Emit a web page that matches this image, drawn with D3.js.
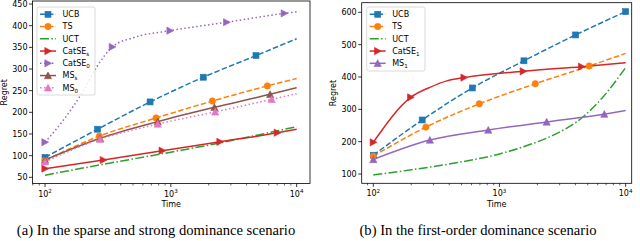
<!DOCTYPE html>
<html><head><meta charset="utf-8">
<script src="https://cdn.jsdelivr.net/npm/d3@7/dist/d3.min.js"></script>
<style>body{margin:0;background:#fff}svg{display:block}</style>
</head><body>
<svg id="c" width="640" height="241"></svg>
<script>
// ---------- data: panel (a) ----------
const ucbA_t = [100, 262, 684, 1811, 4750, 10000];
const ucbA_v = [96, 161, 224, 281, 331, 370];
const tsA_t = [100, 270, 763, 2140, 5850, 10000];
const tsA_v = [89, 145, 187, 226, 261, 278];
const uctA_t = [100, 316, 1000, 2500, 3162, 10000];
const uctA_v = [55, 82, 108, 130, 136, 167];
const catsA_t = [100, 291, 855, 2460, 7030, 10000];
const catsA_v = [70, 90, 111.5, 132, 153, 161];
const cat0A_t = [100, 140, 200, 258, 343, 500, 986, 2780, 7980, 10000];
const cat0A_v = [131, 182, 248, 305, 351, 372, 388.5, 408, 428.5, 432];
const mssA_t = [100, 274, 787, 2220, 6150, 10000];
const mssA_v = [90, 140, 178.5, 211.5, 241.5, 257];
const ms0A_t = [100, 274, 787, 2250, 6330, 10000];
const ms0A_v = [86, 138, 173, 201, 230, 243];
// marker indices
const ucbA_m = [0,1,2,3,4], tsA_m = [0,1,2,3,4], uctA_m = [], catsA_m = [0,1,2,3,4],
      cat0A_m = [0,4,6,7,8], mssA_m = [0,1,2,3,4], ms0A_m = [0,1,2,3,4];

// ---------- data: panel (b) ----------
const ucbB_t = [100, 244, 609, 1563, 4010, 10000];
const ucbB_v = [158, 267, 366, 450, 530, 602];
const tsB_t = [100, 261, 692, 1923, 5140, 10000];
const tsB_v = [155, 245, 317, 379, 434, 473];
const uctB_t = [100, 200, 430, 1000, 1855, 2670, 4610, 6640, 10000];
const uctB_v = [97, 113, 133, 162, 195, 220, 277, 339, 429];
const cat1B_t = [100, 198, 281, 382, 524, 1545, 4480, 10000];
const cat1B_v = [198, 337, 368, 388, 398, 417.5, 432, 444];
const ms1B_t = [100, 281, 815, 2365, 6770, 10000];
const ms1B_v = [145, 205, 236, 261, 285, 296];
const ucbB_m = [0,1,2,3,4,5], tsB_m = [0,1,2,3,4], uctB_m = [], cat1B_m = [0,1,4,5,6], ms1B_m = [0,1,2,3,4];

const yTicksA = [50,100,150,200,250,300,350,400,450];
const yTicksB = [100,200,300,400,500,600];
const xTicks = [100, 1000, 10000];
const captions = ["(a) In the sparse and strong dominance scenario", "(b) In the first-order dominance scenario"];

// ---------- styles ----------
const C = {blue:"#1f77b4", orange:"#ff7f0e", green:"#2ca02c", red:"#d62728", purple:"#9467bd", brown:"#8c564b", pink:"#e377c2"};
const DASH = {solid:null, dashed:"5.5,2.4", dashdot:"9,2.4,1.5,2.4", dotted:"1.5,2.5"};

const panelA = {
  x0: 32.5, x1: 310, y0: 1, y1: 183.5, xd: [Math.pow(10,1.9006), Math.pow(10,4.106)], yd: [35.7, 457], yt: yTicksA,
  legend: {x:37, y:7, w:58, h:88},
  series: [
    {lab:"UCB", sub:"", t:ucbA_t, v:ucbA_v, m:ucbA_m, c:C.blue, d:"dashed", s:"square"},
    {lab:"TS", sub:"", t:tsA_t, v:tsA_v, m:tsA_m, c:C.orange, d:"dashed", s:"circle"},
    {lab:"UCT", sub:"", t:uctA_t, v:uctA_v, m:uctA_m, c:C.green, d:"dashdot", s:"none"},
    {lab:"CatSE", sub:"s", t:catsA_t, v:catsA_v, m:catsA_m, c:C.red, d:"solid", s:"right"},
    {lab:"CatSE", sub:"0", t:cat0A_t, v:cat0A_v, m:cat0A_m, c:C.purple, d:"dotted", s:"right"},
    {lab:"MS", sub:"s", t:mssA_t, v:mssA_v, m:mssA_m, c:C.brown, d:"solid", s:"up"},
    {lab:"MS", sub:"0", t:ms0A_t, v:ms0A_v, m:ms0A_m, c:C.pink, d:"dotted", s:"up"}
  ]
};
const panelB = {
  x0: 361.7, x1: 631.7, y0: 2.7, y1: 183.3, xd: [Math.pow(10,1.908), Math.pow(10,4.048)], yd: [71.2, 629.7], yt: yTicksB,
  legend: {x:366.7, y:7, w:58.3, h:64},
  series: [
    {lab:"UCB", sub:"", t:ucbB_t, v:ucbB_v, m:ucbB_m, c:C.blue, d:"dashed", s:"square"},
    {lab:"TS", sub:"", t:tsB_t, v:tsB_v, m:tsB_m, c:C.orange, d:"dashed", s:"circle"},
    {lab:"UCT", sub:"", t:uctB_t, v:uctB_v, m:uctB_m, c:C.green, d:"dashdot", s:"none"},
    {lab:"CatSE", sub:"1", t:cat1B_t, v:cat1B_v, m:cat1B_m, c:C.red, d:"solid", s:"right"},
    {lab:"MS", sub:"1", t:ms1B_t, v:ms1B_v, m:ms1B_m, c:C.purple, d:"solid", s:"up"}
  ]
};

const svg = d3.select("#c");
const FONT = "DejaVu Sans, sans-serif";

function marker(g, shape, x, y, color) {
  if (shape === "none") return;
  let p;
  if (shape === "square") p = g.append("rect").attr("x", x-3).attr("y", y-3).attr("width", 6).attr("height", 6);
  else if (shape === "circle") p = g.append("circle").attr("cx", x).attr("cy", y).attr("r", 3.2);
  else if (shape === "right") p = g.append("path").attr("d", `M${x+3.6},${y}L${x-3.2},${y-3.6}L${x-3.2},${y+3.6}Z`);
  else if (shape === "up") p = g.append("path").attr("d", `M${x},${y-3.6}L${x+3.6},${y+3.2}L${x-3.6},${y+3.2}Z`);
  p.attr("fill", color).attr("stroke", color).attr("stroke-width", 0.6);
}

function drawPanel(P) {
  const x = d3.scaleLog().domain(P.xd).range([P.x0, P.x1]);
  const y = d3.scaleLinear().domain(P.yd).range([P.y1, P.y0]);
  const g = svg.append("g");

  // lines
  P.series.forEach(s => {
    const pts = s.t.map((t,i) => [x(t), y(s.v[i])]);
    g.append("path").attr("d", d3.line().curve(d3.curveMonotoneX)(pts))
      .attr("fill","none").attr("stroke", s.c).attr("stroke-width", 1.5)
      .attr("stroke-dasharray", DASH[s.d]);
  });
  P.series.forEach(s => {
    s.m.forEach(i => marker(g, s.s, x(s.t[i]), y(s.v[i]), s.c));
  });

  // frame
  g.append("rect").attr("x", P.x0).attr("y", P.y0).attr("width", P.x1-P.x0).attr("height", P.y1-P.y0)
    .attr("fill","none").attr("stroke","#000").attr("stroke-width",0.8);

  // x ticks major + minor
  const minors = [];
  for (let k = 1; k <= 4; k++) for (let m = 2; m <= 9; m++) {
    const v = m*Math.pow(10,k);
    if (v >= P.xd[0] && v <= P.xd[1]) minors.push(v);
  }
  minors.forEach(v => g.append("line").attr("x1", x(v)).attr("x2", x(v)).attr("y1", P.y1).attr("y2", P.y1+2)
    .attr("stroke","#000").attr("stroke-width",0.6));
  xTicks.forEach(v => {
    g.append("line").attr("x1", x(v)).attr("x2", x(v)).attr("y1", P.y1).attr("y2", P.y1+3.5)
      .attr("stroke","#000").attr("stroke-width",0.8);
    const tx = g.append("text").attr("x", x(v)).attr("y", P.y1+13).attr("text-anchor","middle")
      .attr("font-family",FONT).attr("font-size",8).attr("fill","#000");
    tx.append("tspan").text("10");
    tx.append("tspan").attr("font-size",5.6).attr("dy",-3.2).text(String(Math.round(Math.log10(v))));
  });
  // y ticks
  P.yt.forEach(v => {
    g.append("line").attr("x1", P.x0-3.5).attr("x2", P.x0).attr("y1", y(v)).attr("y2", y(v))
      .attr("stroke","#000").attr("stroke-width",0.8);
    g.append("text").attr("x", P.x0-5).attr("y", y(v)+2.9).attr("text-anchor","end")
      .attr("font-family",FONT).attr("font-size",8).attr("fill","#000").text(v);
  });
  // axis labels
  g.append("text").attr("x", (P.x0+P.x1)/2).attr("y", 207).attr("text-anchor","middle")
    .attr("font-family",FONT).attr("font-size",8).text("Time");
  const ry = (P.y0+P.y1)/2;
  g.append("text").attr("transform", `translate(${P.x0-25.5},${ry}) rotate(-90)`).attr("text-anchor","middle")
    .attr("font-family",FONT).attr("font-size",8).text("Regret");

  // legend
  const L = P.legend;
  g.append("rect").attr("x", L.x).attr("y", L.y).attr("width", L.w).attr("height", L.h).attr("rx", 2)
    .attr("fill","#fff").attr("fill-opacity",0.85).attr("stroke","#d0d0d0").attr("stroke-width",0.8);
  P.series.forEach((s,i) => {
    const ly = L.y + 7.3 + i*12.25;
    const lx = L.x + 3;
    g.append("line").attr("x1", lx).attr("x2", lx+16).attr("y1", ly).attr("y2", ly)
      .attr("stroke", s.c).attr("stroke-width",1.5).attr("stroke-dasharray", DASH[s.d]);
    marker(g, s.s, lx+8, ly, s.c);
    const tx = g.append("text").attr("x", lx+22.5).attr("y", ly+2.9).attr("font-family",FONT).attr("font-size",8).attr("fill","#000");
    tx.append("tspan").text(s.lab);
    if (s.sub) tx.append("tspan").attr("font-size",5.6).attr("dy",1.8).text(s.sub);
  });
}
drawPanel(panelA);
drawPanel(panelB);

svg.append("text").attr("x", 156).attr("y", 235).attr("text-anchor","middle")
  .attr("font-family","Liberation Serif, Times New Roman, serif").attr("font-size",14.6).text(captions[0]);
svg.append("text").attr("x", 478).attr("y", 235).attr("text-anchor","middle")
  .attr("font-family","Liberation Serif, Times New Roman, serif").attr("font-size",14.6).text(captions[1]);
</script>
</body></html>
